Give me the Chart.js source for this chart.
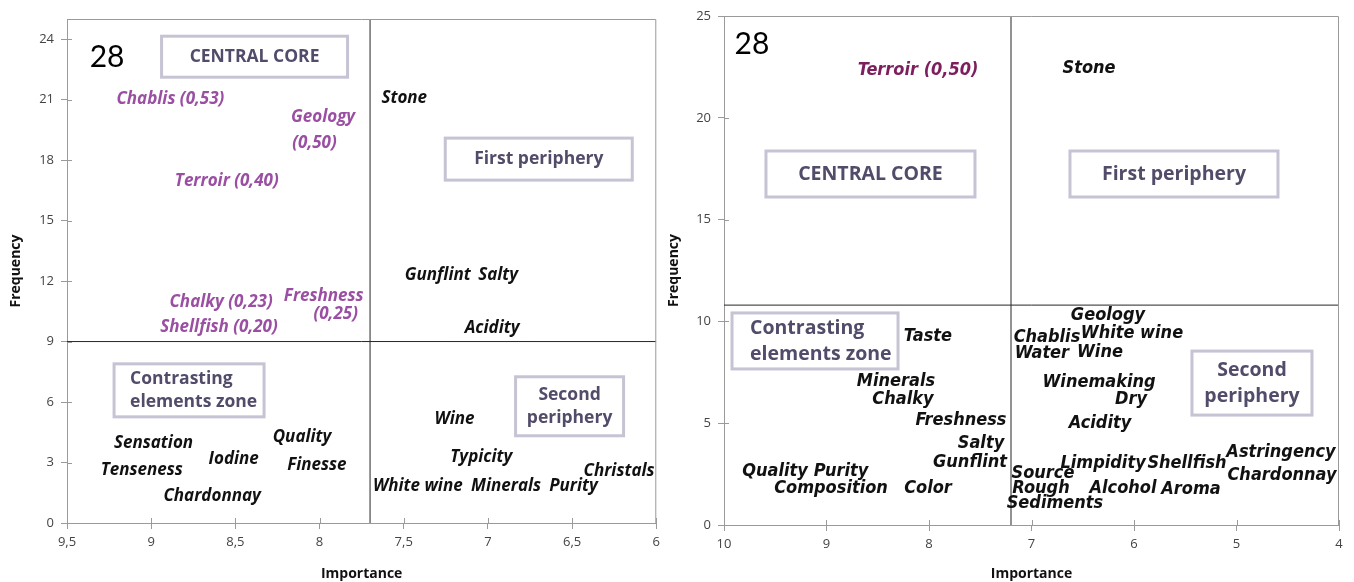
<!DOCTYPE html>
<html>
<head>
<meta charset="utf-8">
<script src="https://cdn.jsdelivr.net/npm/chart.js@4.4.1/dist/chart.umd.min.js"></script>
<style>
  html, body { margin: 0; padding: 0; background: #fff; }
  #wrap { position: relative; width: 1354px; height: 582px; overflow: hidden; }
  canvas { position: absolute; top: 0; }
  #c1 { left: 0; }
  #c2 { left: 665px; }
</style>
</head>
<body>
<div id="wrap">
  <canvas id="c1" width="665" height="582"></canvas>
  <canvas id="c2" width="689" height="582"></canvas>
</div>
<script>
// ---------- LEFT PANEL DATA ----------
const leftXTicks = [9.5, 9, 8.5, 8, 7.5, 7, 6.5, 6];
const leftYTicks = [0, 3, 6, 9, 12, 15, 18, 21, 24];
const leftCoreTerms = ['Chablis (0,53)', 'Geology', '(0,50)', 'Terroir (0,40)', 'Freshness', '(0,25)', 'Chalky (0,23)', 'Shellfish (0,20)'];
const leftCoreImportance = [8.886, 7.979, 8.03, 8.551, 7.975, 7.904, 8.585, 8.597];
const leftCoreFrequency = [21.0, 20.14, 18.85, 16.96, 11.26, 10.37, 10.97, 9.73];
const leftTerms = ['Stone', 'Gunflint', 'Salty', 'Acidity', 'Sensation', 'Tenseness', 'Iodine', 'Chardonnay', 'Quality', 'Finesse', 'Wine', 'Typicity', 'White wine', 'Minerals', 'Purity', 'Christals'];
const leftImportance = [7.497, 7.298, 6.939, 6.975, 8.986, 9.056, 8.510, 8.638, 8.104, 8.016, 7.198, 7.039, 7.416, 6.892, 6.492, 6.221];
const leftFrequency = [21.06, 12.30, 12.30, 9.68, 3.98, 2.64, 3.19, 1.35, 4.28, 2.89, 5.17, 3.29, 1.85, 1.85, 1.85, 2.59];
const leftSplitImportance = 7.7;
const leftSplitFrequency = 9;
const leftZoneNames = ['CENTRAL CORE', 'First periphery', 'Contrasting\nelements zone', 'Second\nperiphery'];
const leftZoneImportance = [8.386, 6.698, 8.775, 6.515];
const leftZoneFrequency = [23.13, 18.05, 6.58, 5.79];
const leftPanelNumber = '28';
const leftPanelNumberAt = [9.262, 23.12];

// ---------- RIGHT PANEL DATA ----------
const rightXTicks = [10, 9, 8, 7, 6, 5, 4];
const rightYTicks = [0, 5, 10, 15, 20, 25];
const rightCoreTerms = ['Terroir (0,50)'];
const rightCoreImportance = [8.107];
const rightCoreFrequency = [22.35];
const rightTerms = ['Stone', 'Taste', 'Minerals', 'Chalky', 'Freshness', 'Salty', 'Gunflint', 'Quality', 'Purity', 'Composition', 'Color',
  'Geology', 'Chablis', 'White wine', 'Water', 'Wine', 'Winemaking', 'Dry', 'Acidity', 'Limpidity', 'Shellfish', 'Astringency', 'Chardonnay',
  'Source', 'Rough', 'Alcohol', 'Aroma', 'Sediments'];
const rightImportance = [6.439, 8.010, 8.322, 8.254, 7.688, 7.493, 7.600, 9.502, 8.858, 8.956, 8.010,
  6.254, 6.849, 6.020, 6.898, 6.332, 6.341, 6.029, 6.332, 6.302, 5.483, 4.566, 4.556,
  6.888, 6.907, 6.107, 5.444, 6.771];
const rightFrequency = [22.45, 9.28, 7.07, 6.19, 5.16, 4.03, 3.09, 2.65, 2.65, 1.82, 1.82,
  10.31, 9.23, 9.43, 8.45, 8.50, 7.02, 6.19, 5.01, 3.05, 3.05, 3.59, 2.46,
  2.55, 1.82, 1.82, 1.77, 1.08];
const rightSplitImportance = 7.2;
const rightSplitFrequency = 10.8;
const rightZoneNames = ['CENTRAL CORE', 'First periphery', 'Contrasting\nelements zone', 'Second\nperiphery'];
const rightZoneImportance = [8.571, 5.610, 9.112, 4.849];
const rightZoneFrequency = [17.24, 17.24, 9.04, 6.97];
const rightPanelNumber = '28';
const rightPanelNumberAt = [9.727, 23.6];

// ---------- helpers ----------
const pts = (xs, ys) => xs.map((x, i) => ({ x: x, y: ys[i] }));
const comma = v => String(v).replace('.', ',');

const textPlugin = {
  id: 'textMarks',
  afterDatasetsDraw(chart) {
    const ctx = chart.ctx;
    chart.data.datasets.forEach((ds, di) => {
      if (!ds.textLabels) return;
      const meta = chart.getDatasetMeta(di);
      ctx.save();
      ctx.font = ds.textFont;
      ctx.fillStyle = ds.textColor;
      ctx.textAlign = 'center';
      ctx.textBaseline = 'middle';
      meta.data.forEach((el, i) => {
        ctx.fillText(ds.textLabels[i], el.x, el.y);
      });
      ctx.restore();
    });
  },
  afterDraw(chart) {
    const o = chart.options.plugins.textMarks;
    const ctx = chart.ctx;
    const xs = chart.scales.x, ys = chart.scales.y;
    const area = chart.chartArea;
    ctx.save();
    ctx.strokeStyle = '#9a9a9a';
    ctx.lineWidth = 1;
    ctx.beginPath();
    ctx.moveTo(area.left, area.top + 0.5);
    ctx.lineTo(area.right - 0.5, area.top + 0.5);
    ctx.lineTo(area.right - 0.5, area.bottom);
    ctx.stroke();
    ctx.beginPath();
    xs.ticks.forEach(t => {
      const px = Math.round(xs.getPixelForValue(t.value)) + 0.5;
      ctx.moveTo(px, area.bottom);
      ctx.lineTo(px, area.bottom - 5);
    });
    ys.ticks.forEach(t => {
      const py = Math.round(ys.getPixelForValue(t.value)) + 0.5;
      ctx.moveTo(area.left, py);
      ctx.lineTo(area.left + 5, py);
    });
    ctx.stroke();
    o.zones.names.forEach((name, i) => {
      const cx = xs.getPixelForValue(o.zones.x[i]);
      const cy = ys.getPixelForValue(o.zones.y[i]);
      const w = o.zones.w[i], h = o.zones.h[i];
      ctx.fillStyle = '#ffffff';
      ctx.fillRect(cx - w / 2, cy - h / 2, w, h);
      ctx.strokeStyle = '#c6c3d4';
      ctx.lineWidth = 3;
      ctx.strokeRect(cx - w / 2, cy - h / 2, w, h);
      ctx.fillStyle = '#524b69';
      ctx.font = o.zones.font;
      ctx.textBaseline = 'middle';
      const lines = name.split('\n');
      const lh = o.zones.lineHeight;
      const left = lines.length > 1 && name.indexOf('Contrasting') === 0;
      ctx.textAlign = left ? 'left' : 'center';
      const tx = left ? cx - w / 2 + o.zones.pad : cx;
      lines.forEach((ln, k) => {
        ctx.fillText(ln, tx, cy + (k - (lines.length - 1) / 2) * lh);
      });
    });
    ctx.fillStyle = '#000';
    ctx.font = o.numberFont;
    ctx.textAlign = 'center';
    ctx.textBaseline = 'middle';
    ctx.fillText(o.number, xs.getPixelForValue(o.numberAt[0]), ys.getPixelForValue(o.numberAt[1]));
    ctx.restore();
  }
};

function makeChart(id, cfg) {
  return new Chart(document.getElementById(id), {
    type: 'scatter',
    data: {
      datasets: [
        { type: 'line', data: [{ x: cfg.splitX, y: cfg.yMin }, { x: cfg.splitX, y: cfg.yMax }], borderColor: '#262626', borderWidth: 1, pointRadius: 0, fill: false },
        { type: 'line', data: [{ x: cfg.xMin, y: cfg.splitY }, { x: cfg.xMax, y: cfg.splitY }], borderColor: '#262626', borderWidth: 1, pointRadius: 0, fill: false },
        { data: pts(cfg.coreX, cfg.coreY), pointRadius: 0, textLabels: cfg.coreTerms, textColor: cfg.coreColor, textFont: cfg.termFont },
        { data: pts(cfg.termX, cfg.termY), pointRadius: 0, textLabels: cfg.terms, textColor: '#111111', textFont: cfg.termFont }
      ]
    },
    options: {
      responsive: false,
      animation: false,
      events: [],
      layout: { padding: cfg.padding },
      plugins: {
        legend: { display: false },
        tooltip: { enabled: false },
        textMarks: {
          zones: cfg.zones,
          number: cfg.number, numberAt: cfg.numberAt, numberFont: '30px Lato'
        }
      },
      scales: {
        x: {
          type: 'linear', reverse: true, min: cfg.xMin, max: cfg.xMax,
          afterBuildTicks: s => { s.ticks = cfg.xTicks.map(v => ({ value: v })); },
          afterFit: s => { s.height = cfg.xHeight; },
          grid: { drawOnChartArea: false, drawTicks: true, tickLength: 6, color: '#9a9a9a' },
          border: { color: '#9a9a9a' },
          ticks: { color: '#444', font: { family: 'Open Sans', size: 13 }, padding: 5, callback: v => comma(v), maxRotation: 0, autoSkip: false },
          title: { display: true, text: 'Importance', color: '#111', font: { family: 'Open Sans', size: 14, weight: 'bold' }, padding: { top: 0, bottom: 0 } }
        },
        y: {
          type: 'linear', min: cfg.yMin, max: cfg.yMax,
          afterBuildTicks: s => { s.ticks = cfg.yTicks.map(v => ({ value: v })); },
          afterFit: s => { s.width = cfg.yWidth; },
          grid: { drawOnChartArea: false, drawTicks: true, tickLength: 6, color: '#9a9a9a' },
          border: { color: '#9a9a9a' },
          ticks: { color: '#444', font: { family: 'Open Sans', size: 13 }, padding: 7, autoSkip: false },
          title: { display: true, text: 'Frequency', color: '#111', font: { family: 'Open Sans', size: 14, weight: 'bold' }, padding: { top: cfg.yTitlePad, bottom: 0 } }
        }
      }
    },
    plugins: [textPlugin]
  });
}

makeChart('c1', {
  xMin: 6, xMax: 9.5, yMin: 0, yMax: 25,
  xTicks: leftXTicks, yTicks: leftYTicks,
  splitX: leftSplitImportance, splitY: leftSplitFrequency,
  coreTerms: leftCoreTerms, coreX: leftCoreImportance, coreY: leftCoreFrequency, coreColor: '#9a4fa2',
  terms: leftTerms, termX: leftImportance, termY: leftFrequency,
  termFont: 'italic bold 17px "Open Sans"',
  padding: { left: 0, right: 3, top: 19, bottom: 0 },
  xHeight: 59, yWidth: 67, yTitlePad: 8,
  zones: { names: leftZoneNames, x: leftZoneImportance, y: leftZoneFrequency, w: [186, 187, 150, 108], h: [41, 42, 53, 59], font: 'bold 17.5px "Open Sans"', lineHeight: 23, pad: 16 },
  number: leftPanelNumber, numberAt: leftPanelNumberAt
});

makeChart('c2', {
  xMin: 4, xMax: 10, yMin: 0, yMax: 25,
  xTicks: rightXTicks, yTicks: rightYTicks,
  splitX: rightSplitImportance, splitY: rightSplitFrequency,
  coreTerms: rightCoreTerms, coreX: rightCoreImportance, coreY: rightCoreFrequency, coreColor: '#7d1f5e',
  terms: rightTerms, termX: rightImportance, termY: rightFrequency,
  termFont: 'italic bold 18px "DejaVu Sans Condensed", "DejaVu Sans", sans-serif',
  padding: { left: 0, right: 15, top: 16, bottom: 0 },
  xHeight: 57, yWidth: 59, yTitlePad: 1,
  zones: { names: rightZoneNames, x: rightZoneImportance, y: rightZoneFrequency, w: [209, 208, 166, 120], h: [46, 46, 56, 64], font: 'bold 19.5px "Open Sans"', lineHeight: 26, pad: 18 },
  number: rightPanelNumber, numberAt: rightPanelNumberAt
});
</script>
</body>
</html>
